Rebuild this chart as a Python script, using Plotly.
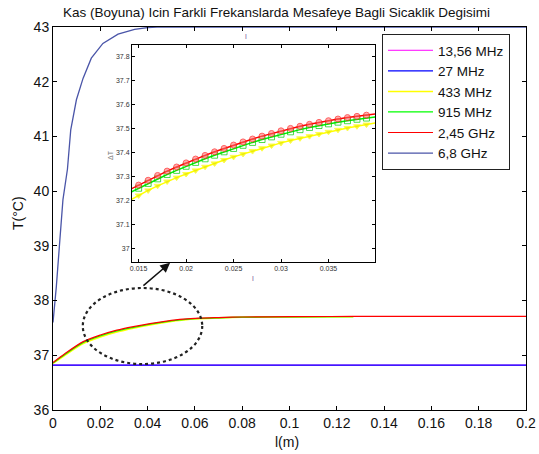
import plotly.graph_objects as go

# ---------------- data (main plot) ----------------
x_main = [0, 0.005, 0.0128, 0.02, 0.027, 0.034, 0.041, 0.048, 0.055, 0.062, 0.07, 0.08, 0.1, 0.127, 0.2]
t_245ghz = [36.87, 37.03, 37.25, 37.37, 37.46, 37.525, 37.58, 37.625, 37.66, 37.68, 37.69, 37.70, 37.705, 37.71, 37.71]
t_915mhz = [36.86, 37.015, 37.235, 37.355, 37.445, 37.51, 37.568, 37.615, 37.652, 37.674, 37.686, 37.697, 37.703, 37.708]
t_433mhz = [36.85, 37.00, 37.215, 37.335, 37.425, 37.495, 37.555, 37.605, 37.645, 37.668, 37.682, 37.694, 37.701, 37.706]
x_flat = [0, 0.2]
t_1356mhz = [36.82, 36.82]
t_27mhz = [36.82, 36.82]
x_68 = [0, 0.0014, 0.0028, 0.0042, 0.0061, 0.0075, 0.0099, 0.0127, 0.0162, 0.0211, 0.0275, 0.0345, 0.040, 0.044, 0.2]
t_68ghz = [37.6, 38.25, 39.05, 39.84, 40.4, 41.12, 41.67, 42.06, 42.43, 42.70, 42.87, 42.955, 42.99, 43.0, 43.0]

labels = ["13,56 MHz", "27 MHz", "433 MHz", "915 MHz", "2,45 GHz", "6,8 GHz"]
colors = ["#ff00ff", "#0000ff", "#ffff00", "#00ff00", "#ff0000", "#4a55a8"]

# ---------------- data (inset) ----------------
x_in = [0.014, 0.015, 0.016, 0.017, 0.018, 0.019, 0.020, 0.021, 0.022, 0.023, 0.024, 0.025, 0.026,
        0.027, 0.028, 0.029, 0.030, 0.031, 0.032, 0.033, 0.034, 0.035, 0.036, 0.037, 0.038, 0.039, 0.040]
in_red = [37.245, 37.265, 37.285, 37.305, 37.323, 37.340, 37.357, 37.373, 37.388, 37.403, 37.417, 37.431, 37.444,
          37.456, 37.468, 37.479, 37.490, 37.500, 37.509, 37.517, 37.525, 37.532, 37.539, 37.545, 37.550, 37.555, 37.560]
in_green = [37.232, 37.252, 37.272, 37.291, 37.309, 37.326, 37.343, 37.359, 37.374, 37.389, 37.403, 37.417, 37.430,
            37.442, 37.454, 37.465, 37.476, 37.486, 37.495, 37.504, 37.512, 37.519, 37.526, 37.532, 37.538, 37.543, 37.548]
in_yellow = [37.200, 37.222, 37.243, 37.262, 37.280, 37.296, 37.311, 37.326, 37.341, 37.355, 37.369, 37.382, 37.394,
             37.406, 37.418, 37.429, 37.440, 37.450, 37.459, 37.468, 37.477, 37.486, 37.494, 37.502, 37.509, 37.516, 37.523]

FONT = "Arial, Liberation Sans, sans-serif"
fig = go.Figure()

n915 = len(t_915mhz)
n433 = len(t_433mhz)
fig.add_trace(go.Scatter(x=x_flat, y=t_1356mhz, mode="lines", name=labels[0], line=dict(color=colors[0], width=1)))
fig.add_trace(go.Scatter(x=x_flat, y=t_27mhz, mode="lines", name=labels[1], line=dict(color=colors[1], width=1.3)))
fig.add_trace(go.Scatter(x=x_main[:n433], y=t_433mhz, mode="lines", name=labels[2],
                         line=dict(color=colors[2], width=1.5, shape="spline", smoothing=0.8)))
fig.add_trace(go.Scatter(x=x_main[:n915], y=t_915mhz, mode="lines", name=labels[3],
                         line=dict(color=colors[3], width=1.3, shape="spline", smoothing=0.8)))
fig.add_trace(go.Scatter(x=x_main, y=t_245ghz, mode="lines", name=labels[4],
                         line=dict(color=colors[4], width=1.2, shape="spline", smoothing=0.8)))
fig.add_trace(go.Scatter(x=x_68, y=t_68ghz, mode="lines", name=labels[5],
                         line=dict(color=colors[5], width=1.3), cliponaxis=False))

sizes = [0] + [6] * (len(x_in) - 2) + [0]
fig.add_trace(go.Scatter(x=x_in, y=in_yellow, mode="lines+markers", xaxis="x2", yaxis="y2", showlegend=False,
                         line=dict(color="#ffff00", width=1.5),
                         marker=dict(symbol="triangle-down", size=sizes, color="#e8e800")))
fig.add_trace(go.Scatter(x=x_in, y=in_green, mode="lines+markers", xaxis="x2", yaxis="y2", showlegend=False,
                         line=dict(color="#00ee00", width=1.5),
                         marker=dict(symbol="square-open", size=sizes, color="#00cc00", line=dict(width=1))))
fig.add_trace(go.Scatter(x=x_in, y=in_red, mode="lines+markers", xaxis="x2", yaxis="y2", showlegend=False,
                         line=dict(color="#ff0000", width=1.5),
                         marker=dict(symbol="circle", size=sizes, color="rgba(255,110,110,0.8)",
                                     line=dict(color="#ff2020", width=1))))

axis_common = dict(showline=True, linecolor="black", linewidth=1, mirror="ticks", ticks="inside",
                   tickcolor="black", showgrid=False, zeroline=False, automargin=False)

fig.update_layout(
    template="none",
    width=539, height=454,
    margin=dict(l=53, r=13, t=27, b=44, pad=0),
    paper_bgcolor="white", plot_bgcolor="white",
    font=dict(family=FONT, color="#222222"),
    title=dict(text="Kas (Boyuna) Icin Farkli Frekanslarda Mesafeye Bagli Sicaklik Degisimi",
               x=276.5 / 539, xanchor="center", y=1 - 12 / 454, yanchor="middle",
               font=dict(size=13.5, color="#111111", family=FONT)),
    xaxis=dict(range=[0, 0.2], tickvals=[0, 0.02, 0.04, 0.06, 0.08, 0.1, 0.12, 0.14, 0.16, 0.18, 0.2],
               ticktext=["0", "0.02", "0.04", "0.06", "0.08", "0.1", "0.12", "0.14", "0.16", "0.18", "0.2"],
               tickfont=dict(size=14, color="#111111"), ticklen=4, **axis_common),
    yaxis=dict(range=[36, 43], tickvals=[36, 37, 38, 39, 40, 41, 42, 43],
               tickfont=dict(size=14, color="#111111"), ticklen=4, **axis_common),
    xaxis2=dict(domain=[(132 - 53) / 473, (375 - 53) / 473], anchor="y2", range=[0.0143, 0.0399],
                tickvals=[0.015, 0.02, 0.025, 0.03, 0.035], ticktext=["0.015", "0.02", "0.025", "0.03", "0.035"],
                tickfont=dict(size=7, color="#333333"), ticklen=3, **axis_common),
    yaxis2=dict(domain=[(410 - 262) / 383, (410 - 45) / 383], anchor="x2", range=[36.946, 37.846],
                tickvals=[37, 37.1, 37.2, 37.3, 37.4, 37.5, 37.6, 37.7, 37.8],
                ticktext=["37", "37.1", "37.2", "37.3", "37.4", "37.5", "37.6", "37.7", "37.8"],
                tickfont=dict(size=7, color="#333333"), ticklen=3, **axis_common),
    legend=dict(x=(382 - 53) / 473, y=(410 - 34) / 383, xanchor="left", yanchor="top",
                bgcolor="white", bordercolor="#222222", borderwidth=1, itemwidth=45,
                font=dict(size=13.5, color="#111111", family=FONT), tracegroupgap=0),
    showlegend=True,
)

# dotted ellipse and arrow
fig.add_shape(type="circle", xref="x", yref="y", x0=0.0126, x1=0.0631, y0=36.84, y1=38.23,
              line=dict(color="#222222", width=2.2, dash="dot"))
fig.add_annotation(x=0.0495, y=38.69, ax=0.0376, ay=38.25, xref="x", yref="y", axref="x", ayref="y",
                   showarrow=True, arrowhead=2, arrowsize=1.3, arrowwidth=1.5, arrowcolor="#111111", text="")

def label(text, px, py, size, color, angle=0):
    fig.add_annotation(text=text, xref="paper", yref="paper", x=(px - 53) / 473, y=(410 - py) / 383,
                       xanchor="center", yanchor="middle", showarrow=False, textangle=angle,
                       font=dict(size=size, color=color))

# axis titles
label("T(°C)", 18, 213, 14, "#111111", -90)
label("l(m)", 287, 442, 14, "#111111")
# inset labels
label("ΔT", 110, 155, 7, "#777777", -90)
label("l", 253, 278, 8, "#8060a0")
label("l", 246, 36, 8, "#8060a0")

fig.write_html("out.html", post_script="document.body.style.margin='0px';",
               config={"displayModeBar": False})
